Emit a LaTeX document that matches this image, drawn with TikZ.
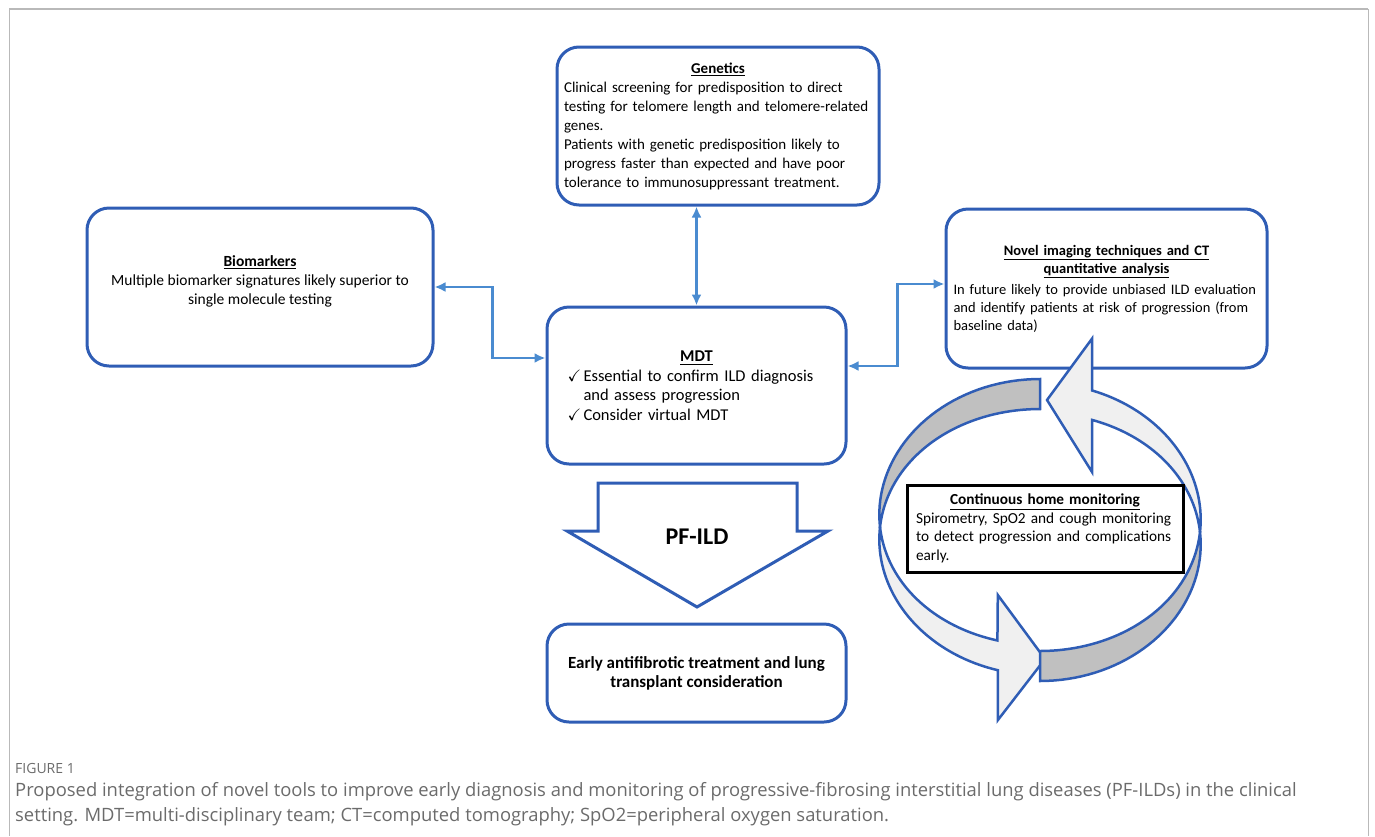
\documentclass[tikz,border=0pt]{standalone}
\usepackage{amssymb}
\usepackage{fontspec}
\setmainfont{Carlito}
\newfontfamily\legfont{Open Sans}
\usetikzlibrary{arrows.meta}

\definecolor{cadre}{HTML}{2F5DB5}
\definecolor{bleulien}{HTML}{4A8BD0}
\definecolor{gris}{HTML}{C0C0C0}
\definecolor{clair}{HTML}{F0F0F0}
\definecolor{legende}{HTML}{6B6B6B}

\begin{document}
\begin{tikzpicture}[x=1pt,y=-1pt,
  boite/.style={draw=cadre,line width=3pt,rounded corners=22pt,fill=white,inner xsep=8pt,inner ysep=4pt,font=\fontsize{15.5}{19}\selectfont},
  fleche/.style={draw=bleulien,line width=2.5pt,{Latex[length=11pt,width=10pt]}-{Latex[length=11pt,width=10pt]}},
  ruban/.style={draw=cadre,line width=2.5pt}]
\useasboundingbox (0,0) rectangle (1375,836);

% cadre de la figure
\draw[gray!55,line width=2pt] (9,9) -- (1368,9);
\draw[gray!55,line width=0.8pt] (9,9) -- (9,836) (1368,9) -- (1368,836);

% boites
\node[boite,text width=308pt,align=left,inner xsep=7pt,minimum width=322pt,minimum height=158pt,font=\fontsize{15}{19}\selectfont] (gen) at (718,126)
  {{\centering\textbf{\underline{Genetics}}\par}
   Clinical screening for predisposition to direct\\
   testing for telomere length and telomere-related\\
   genes.\\
   Patients with genetic predisposition likely to\\
   progress faster than expected and have poor\\
   tolerance to immunosuppressant treatment.};
\node[boite,minimum width=346pt,minimum height=158pt] (bio) at (260,287) {};
\node[align=center,font=\fontsize{15.5}{19}\selectfont] (biotxt) at ([yshift=6pt]bio.center)
  {\textbf{\underline{Biomarkers}}\\
   Multiple biomarker signatures likely superior to\\
   single molecule testing};
\node[boite,text width=306pt,align=left,inner xsep=7.5pt,minimum width=321pt,minimum height=159pt,font=\fontsize{14.5}{18}\selectfont] (nov) at (1106.5,288.5)
  {{\centering\textbf{\underline{Novel imaging techniques and CT}}\\
    \textbf{\underline{quantitative analysis}}\par}
   \vspace{3pt}In future likely to provide unbiased ILD evaluation\\
   and identify patients at risk of progression (from\\
   baseline data)};
\node[boite,text width=258pt,align=left,minimum width=299pt,minimum height=157pt,font=\fontsize{16.5}{19.5}\selectfont] (mdt) at (696.5,385.5)
  {{\centering\textbf{\underline{MDT}}\par}
   \makebox[16pt][l]{$\checkmark$}Essential to confirm ILD diagnosis\\
   \hspace*{16pt}and assess progression\\
   \makebox[16pt][l]{$\checkmark$}Consider virtual MDT};
\node[boite,align=center,minimum width=299pt,minimum height=98pt,font=\bfseries\fontsize{17}{19}\selectfont] (trt) at (696.5,673)
  {Early antifibrotic treatment and lung\\ transplant consideration};

% liens
\draw[fleche] (mdt.north) -- (mdt.north |- gen.south);
\draw[fleche] (bio.east) -- ++(58,0) |- ([yshift=27.5pt]mdt.west);
\draw[fleche] ([yshift=4.5pt]nov.west) -- ++(-47,0) |- ([yshift=19.5pt]mdt.east);

% grande fleche PF-ILD
\draw[draw=cadre,line width=3pt,fill=white] (598,483) -- (797,483) -- (797,531) -- (828,531)
  -- (697,607) -- (567,531) -- (598,531) -- cycle;
\node[font=\bfseries\fontsize{24}{28}\selectfont] (pf) at (697,537) {PF-ILD};

% boucle de suivi, cote gauche
\filldraw[ruban,fill=gris] plot[domain=270:180,samples=40] ({1040+(160+15*abs(sin(\x)))*cos(\x)},{527+(133+15*abs(sin(\x)))*sin(\x)})
  -- plot[domain=180:270,samples=40] ({1040+(160-15*abs(sin(\x)))*cos(\x)},{527+(133-15*abs(sin(\x)))*sin(\x)}) -- cycle;
\filldraw[ruban,fill=clair] plot[domain=180:104,samples=40] ({1040+(160+15*abs(sin(\x)))*cos(\x)},{527+(133+15*abs(sin(\x)))*sin(\x)})
  -- ++(0,50) -- (1045,659) -- (997.8,595)
  -- plot[domain=107:180,samples=40] ({1040+(160-15*abs(sin(\x)))*cos(\x)},{527+(133-15*abs(sin(\x)))*sin(\x)}) -- cycle;
% cote droit
\filldraw[ruban,fill=gris] plot[domain=90:0,samples=40] ({1040+(160+15*abs(sin(\x)))*cos(\x)},{532+(134+15*abs(sin(\x)))*sin(\x)})
  -- plot[domain=0:90,samples=40] ({1040+(160-15*abs(sin(\x)))*cos(\x)},{532+(134-15*abs(sin(\x)))*sin(\x)}) -- cycle;
\filldraw[ruban,fill=clair] plot[domain=360:287.4,samples=40] ({1040+(160+15*abs(sin(\x)))*cos(\x)},{532+(134+15*abs(sin(\x)))*sin(\x)})
  -- ++(0,-52) -- (1047,400) -- (1092,472)
  -- plot[domain=290.9:360,samples=40] ({1040+(160-15*abs(sin(\x)))*cos(\x)},{532+(134-15*abs(sin(\x)))*sin(\x)}) -- cycle;

\node[draw=black,line width=3pt,fill=white,text width=258pt,align=left,inner xsep=9pt,minimum width=276pt,minimum height=87pt,font=\fontsize{15.3}{18.5}\selectfont] (suivi) at (1045,528.5)
  {{\centering\textbf{\underline{Continuous home monitoring}}\par}
   Spirometry, SpO2 and cough monitoring\\
   to detect progression and complications\\
   early.};

% legende
\node[anchor=west,inner sep=0,font=\legfont\fontsize{14}{16}\selectfont,text=legende] (fig) at (15,768) {FIGURE 1};
\node[anchor=north west,align=left,inner sep=0,font=\legfont\fontsize{18.4}{25}\selectfont,text=legende] (leg) at (15,782)
  {Proposed integration of novel tools to improve early diagnosis and monitoring of progressive-fibrosing interstitial lung diseases (PF-ILDs) in the clinical\\
   setting. MDT=multi-disciplinary team; CT=computed tomography; SpO2=peripheral oxygen saturation.};
\end{tikzpicture}
\end{document}
